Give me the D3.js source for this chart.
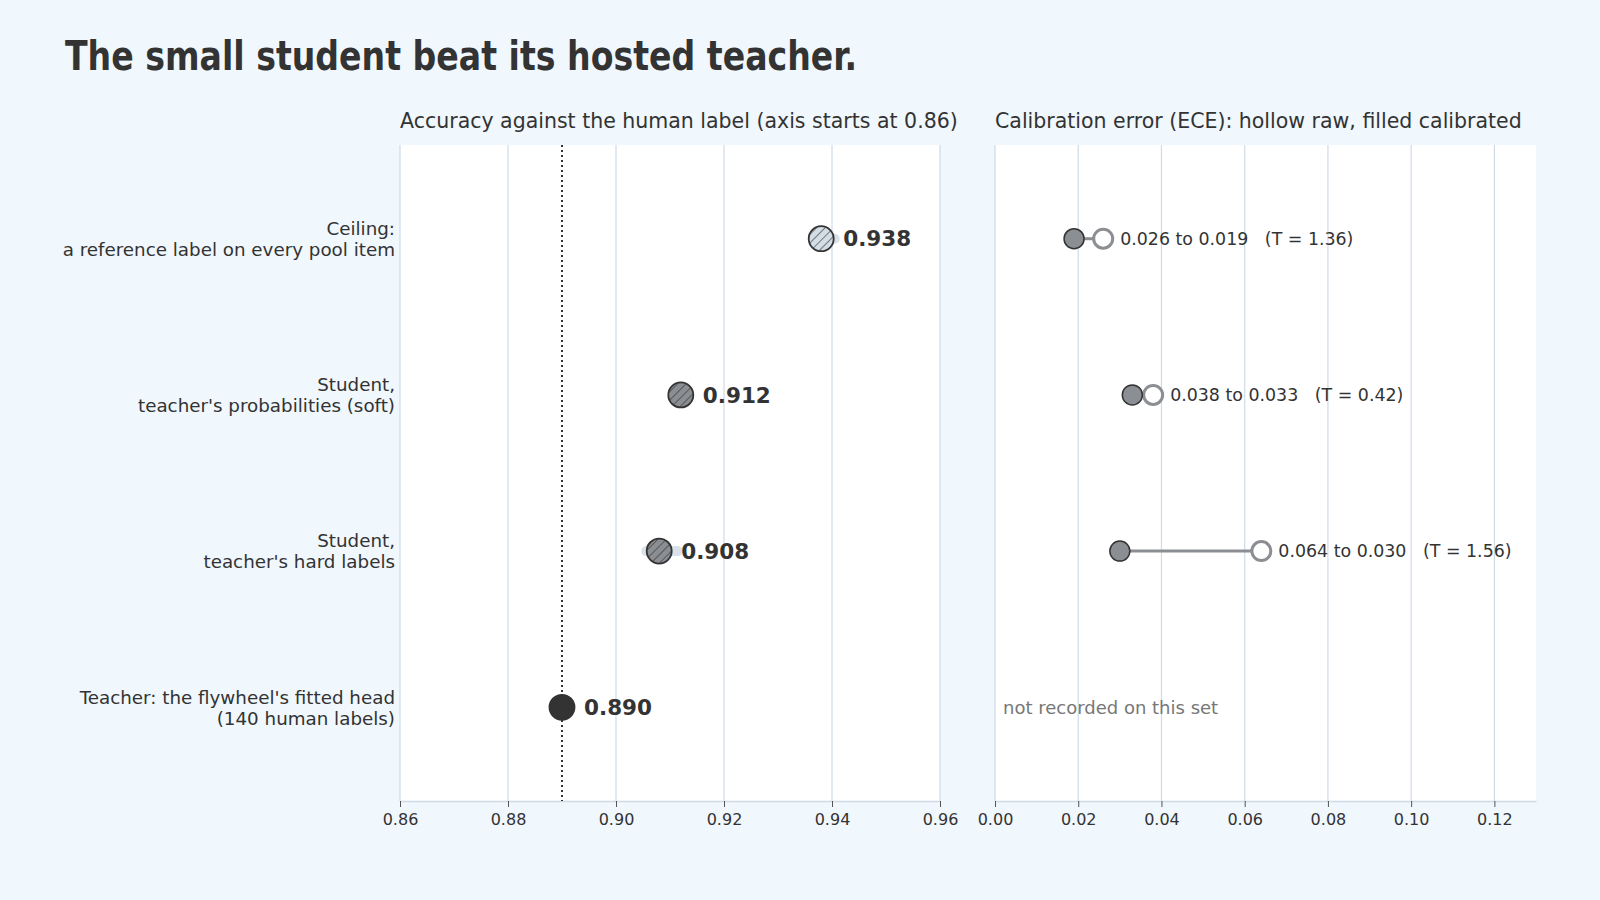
<!DOCTYPE html>
<html>
<head>
<meta charset="utf-8">
<script src="https://cdn.jsdelivr.net/npm/d3@7"></script>
<style>
  html, body { margin: 0; padding: 0; background: #f0f7fd; }
  svg { display: block; }
  text { font-family: "DejaVu Sans", "Noto Sans", sans-serif; fill: #333; }
  .pre { white-space: pre; }
</style>
</head>
<body>
<svg id="chart" width="1600" height="900"></svg>
<script>
// data
var rowLabels = [
    ["Ceiling:", "a reference label on every pool item"],
    ["Student,", "teacher's probabilities (soft)"],
    ["Student,", "teacher's hard labels"],
    ["Teacher: the flywheel's fitted head", "(140 human labels)"]
];
var accuracy = [0.938, 0.912, 0.908, 0.890];
var accLo = [0.9365, 0.911, 0.9056, 0.890];
var accHi = [0.9405, 0.9135, 0.9114, 0.890];
var markKind = ["ceiling", "student", "student", "teacher"];
var eceRaw = [0.026, 0.038, 0.064, null];
var eceCal = [0.019, 0.033, 0.030, null];
var temps = [1.36, 0.42, 1.56, null];
var accTicks = [0.86, 0.88, 0.90, 0.92, 0.94, 0.96];
var eceTicks = [0.00, 0.02, 0.04, 0.06, 0.08, 0.10, 0.12];
var teacherAcc = 0.890;

var svg = d3.select("#chart");
var plotTop = 145, plotBottom = 801;
var gridColor = "#cfdbe6";

var title = svg.append("text")
    .attr("x", 65)
    .attr("y", 70)
    .attr("font-weight", "bold")
    .attr("font-size", 41)
    .style("font-family", "'DejaVu Sans', sans-serif")
    .style("font-stretch", "condensed")
    .text("The small student beat its hosted teacher.");
// squeeze to the reference width if the condensed face is missing
if(title.node().getComputedTextLength() > 795){
    title.attr("textLength", 792).attr("lengthAdjust", "spacingAndGlyphs");
}

var y = d3.scalePoint()
    .domain(d3.range(rowLabels.length))
    .range([plotTop, plotBottom])
    .padding(0.6);

var xAcc = d3.scaleLinear().domain([0.86, 0.96]).range([400, 940]);
var xEce = d3.scaleLinear().domain([0, 0.13]).range([995, 1536]);

// hatch patterns
var defs = svg.append("defs");
function hatch(id, fill){
    var p = defs.append("pattern")
        .attr("id", id)
        .attr("patternUnits", "userSpaceOnUse")
        .attr("width", 6)
        .attr("height", 6)
        .attr("patternTransform", "rotate(45)");
    p.append("rect").attr("width", 6).attr("height", 6).attr("fill", fill);
    p.append("line").attr("x1", 0).attr("y1", 0).attr("x2", 0).attr("y2", 6)
        .attr("stroke", "#333").attr("stroke-width", 1.2);
}
hatch("hatchLight", "#d3dde6");
hatch("hatchDark", "#8b8e92");

function drawPanel(x, ticks, label){
    var g = svg.append("g");
    g.append("rect")
        .attr("x", x.range()[0])
        .attr("y", plotTop)
        .attr("width", x.range()[1] - x.range()[0])
        .attr("height", plotBottom - plotTop)
        .attr("fill", "#fff");
    g.selectAll(".grid").data(ticks).enter().append("line")
        .attr("x1", function(d){ return x(d); })
        .attr("x2", function(d){ return x(d); })
        .attr("y1", plotTop)
        .attr("y2", plotBottom)
        .attr("stroke", gridColor)
        .attr("stroke-width", 1.2);
    var axis = g.append("g")
        .attr("transform", "translate(0," + plotBottom + ")")
        .call(d3.axisBottom(x).tickValues(ticks).tickFormat(d3.format(".2f")).tickSize(6).tickSizeOuter(0));
    axis.select(".domain").attr("stroke", gridColor).attr("stroke-width", 1.5);
    axis.selectAll(".tick line").attr("stroke", "#555");
    axis.selectAll(".tick text")
        .attr("font-size", 16)
        .attr("dy", "0.95em")
        .style("font-family", "'DejaVu Sans', sans-serif")
        .attr("fill", "#444");
    g.append("text")
        .attr("x", x.range()[0])
        .attr("y", 128)
        .attr("font-size", 20.5)
        .attr("fill", "#333")
        .text(label);
    return g;
}

drawPanel(xAcc, accTicks, "Accuracy against the human label (axis starts at 0.86)");
drawPanel(xEce, eceTicks, "Calibration error (ECE): hollow raw, filled calibrated");

// row labels
rowLabels.forEach(function(lines, i){
    var t = svg.append("text")
        .attr("x", 395)
        .attr("y", y(i))
        .attr("text-anchor", "end")
        .attr("font-size", 18.3)
        .attr("fill", "#333");
    lines.forEach(function(l, j){
        t.append("tspan")
            .attr("x", 395)
            .attr("dy", j === 0 ? "-0.2em" : "1.15em")
            .text(l);
    });
});

// teacher reference line
svg.append("line")
    .attr("x1", xAcc(teacherAcc))
    .attr("x2", xAcc(teacherAcc))
    .attr("y1", plotTop)
    .attr("y2", plotBottom)
    .attr("stroke", "#333")
    .attr("stroke-width", 2)
    .attr("stroke-dasharray", "2,3");

// accuracy marks
var acc = svg.append("g");
acc.selectAll(".ci").data(accuracy).enter().append("line")
    .attr("x1", function(d, i){ return xAcc(accLo[i]); })
    .attr("x2", function(d, i){ return xAcc(accHi[i]); })
    .attr("y1", function(d, i){ return y(i); })
    .attr("y2", function(d, i){ return y(i); })
    .attr("stroke", "#d9e2ea")
    .attr("stroke-width", 10)
    .attr("stroke-linecap", "round")
    .attr("display", function(d, i){ return markKind[i] === "teacher" ? "none" : null; });

acc.selectAll(".dot").data(accuracy).enter().append("circle")
    .attr("cx", function(d){ return xAcc(d); })
    .attr("cy", function(d, i){ return y(i); })
    .attr("r", 12.5)
    .attr("fill", function(d, i){
        if(markKind[i] === "ceiling") return "url(#hatchLight)";
        if(markKind[i] === "student") return "url(#hatchDark)";
        return "#333";
    })
    .attr("stroke", "#333")
    .attr("stroke-width", 1.8);

acc.selectAll(".val").data(accuracy).enter().append("text")
    .attr("x", function(d){ return xAcc(d) + 22; })
    .attr("y", function(d, i){ return y(i); })
    .attr("dy", "0.36em")
    .attr("font-size", 21.5)
    .attr("font-weight", "bold")
    .text(function(d){ return d3.format(".3f")(d); });

// calibration marks
var ece = svg.append("g");
eceRaw.forEach(function(raw, i){
    var cy = y(i);
    if(raw === null){
        ece.append("text")
            .attr("x", xEce(0) + 8)
            .attr("y", cy)
            .attr("dy", "0.36em")
            .attr("font-size", 18)
            .attr("fill", "#777")
            .style("fill", "#777")
            .text("not recorded on this set");
        return;
    }
    var cal = eceCal[i];
    ece.append("line")
        .attr("x1", xEce(cal))
        .attr("x2", xEce(raw))
        .attr("y1", cy)
        .attr("y2", cy)
        .attr("stroke", "#8b8e92")
        .attr("stroke-width", 3);
    ece.append("circle")
        .attr("cx", xEce(raw))
        .attr("cy", cy)
        .attr("r", 9.5)
        .attr("fill", "#fff")
        .attr("stroke", "#8b8e92")
        .attr("stroke-width", 3);
    ece.append("circle")
        .attr("cx", xEce(cal))
        .attr("cy", cy)
        .attr("r", 10)
        .attr("fill", "#8b8e92")
        .attr("stroke", "#333")
        .attr("stroke-width", 1.5);
    ece.append("text")
        .attr("class", "pre")
        .attr("x", xEce(raw) + 17)
        .attr("y", cy)
        .attr("dy", "0.36em")
        .attr("font-size", 17.4)
        .text(d3.format(".3f")(raw) + " to " + d3.format(".3f")(cal) + "   (T = " + d3.format(".2f")(temps[i]) + ")");
});
</script>
</body>
</html>
